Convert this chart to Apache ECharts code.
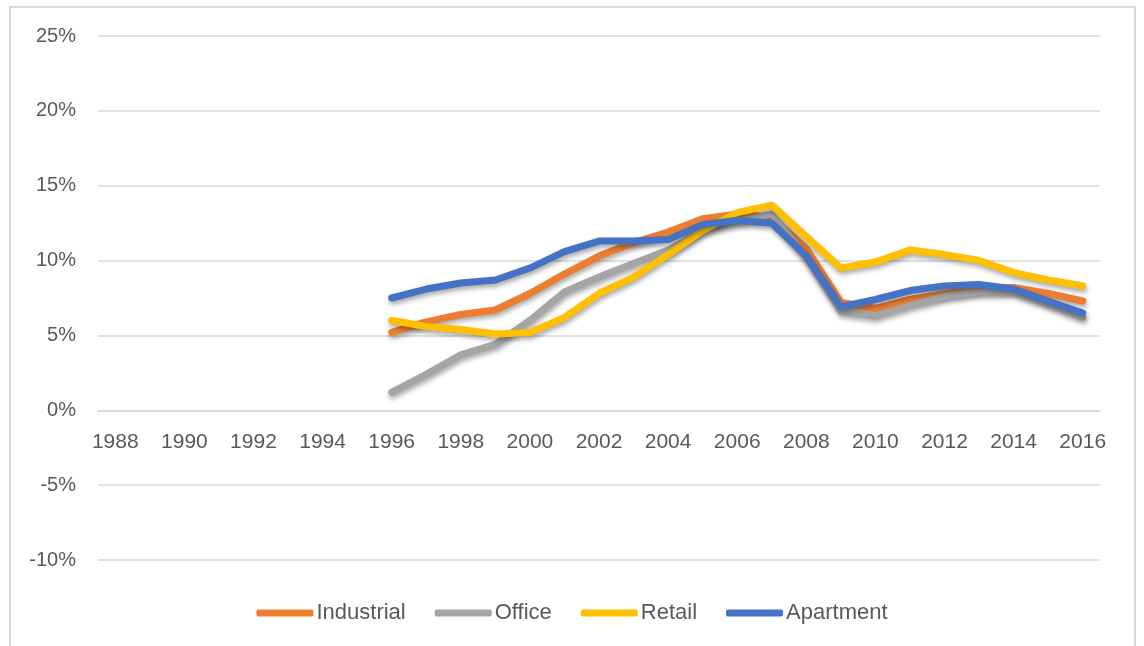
<!DOCTYPE html>
<html>
<head>
<meta charset="utf-8">
<script src="https://cdn.jsdelivr.net/npm/echarts@6/dist/echarts.min.js"></script>
<style>
html,body{margin:0;padding:0;background:#fff;}
#chart{width:1144px;height:646px;}
</style>
</head>
<body>
<div id="chart"></div>
<script>
const years = ['1988','1989','1990','1991','1992','1993','1994','1995','1996','1997','1998','1999','2000','2001','2002','2003','2004','2005','2006','2007','2008','2009','2010','2011','2012','2013','2014','2015','2016'];
const industrial = [null,null,null,null,null,null,null,null,5.2,5.9,6.4,6.7,7.8,9.1,10.3,11.2,11.9,12.8,13.1,12.9,10.8,7.2,6.8,7.4,7.8,8.1,8.2,7.8,7.3];
const office = [null,null,null,null,null,null,null,null,1.2,2.4,3.7,4.4,6.0,7.9,8.9,9.8,10.7,12.0,12.6,13.1,10.2,6.6,6.3,7.0,7.6,7.9,7.9,7.1,6.2];
const retail = [null,null,null,null,null,null,null,null,6.0,5.6,5.4,5.1,5.2,6.2,7.8,8.9,10.4,12.0,13.2,13.7,11.6,9.5,9.9,10.7,10.4,10.0,9.2,8.7,8.3];
const apartment = [null,null,null,null,null,null,null,null,7.5,8.1,8.5,8.7,9.5,10.6,11.3,11.3,11.4,12.4,12.7,12.5,10.3,6.9,7.4,8.0,8.3,8.4,8.1,7.3,6.5];
const seriesNames = ['Industrial','Office','Retail','Apartment'];
const seriesColors = ['#ED7D31','#A5A5A5','#FFC000','#4472C4'];
const seriesData = [industrial, office, retail, apartment];
const yMin = -10, yMax = 25, yStep = 5;

const gridTop = 36, gridBottom = 86, H = 646;
const gridH = H - gridTop - gridBottom;
// place the category axis at value 0 (as in the reference)
const zeroOffset = -(0 - yMin) / (yMax - yMin) * gridH;

const chart = echarts.init(document.getElementById('chart'), null, {renderer:'canvas'});
const font = '"Liberation Sans", Arial, sans-serif';
chart.setOption({
  animation:false,
  backgroundColor:'#fff',
  graphic:[{type:'rect',shape:{x:10,y:7,width:1125,height:660},style:{fill:'none',stroke:'#d9d9d9',lineWidth:2},silent:true}],
  grid:{left:98,right:44,top:gridTop,bottom:gridBottom,containLabel:false},
  legend:{
    data:seriesNames,
    left:'center',
    top:596,
    itemWidth:57,
    itemHeight:7,
    itemGap:29,
    icon:'roundRect',
    textStyle:{fontFamily:font,fontSize:22,color:'#595959',padding:[0,0,0,-2],lineHeight:24}
  },
  xAxis:{
    type:'category',
    data:years,
    boundaryGap:true,
    offset:zeroOffset,
    axisLine:{onZero:false,lineStyle:{color:'#d9d9d9',width:2}},
    axisTick:{show:false},
    axisLabel:{interval:1,fontFamily:font,fontSize:21,color:'#595959',margin:21},
    splitLine:{show:false}
  },
  yAxis:{
    type:'value',
    min:yMin,max:yMax,interval:yStep,
    axisLine:{show:false},
    axisTick:{show:false},
    axisLabel:{formatter:'{value}%',fontFamily:font,fontSize:20,color:'#595959',margin:22},
    splitLine:{lineStyle:{color:'#d9d9d9',width:1.5}}
  },
  series:seriesNames.map((n,i)=>({
    name:n,
    type:'line',
    data:seriesData[i],
    showSymbol:false,
    symbol:'none',
    connectNulls:false,
    color:seriesColors[i],
    lineStyle:{width:7,color:seriesColors[i],cap:'round',join:'round',shadowColor:'rgba(0,0,0,0.35)',shadowBlur:5,shadowOffsetX:1,shadowOffsetY:3}
  }))
});
</script>
</body>
</html>
